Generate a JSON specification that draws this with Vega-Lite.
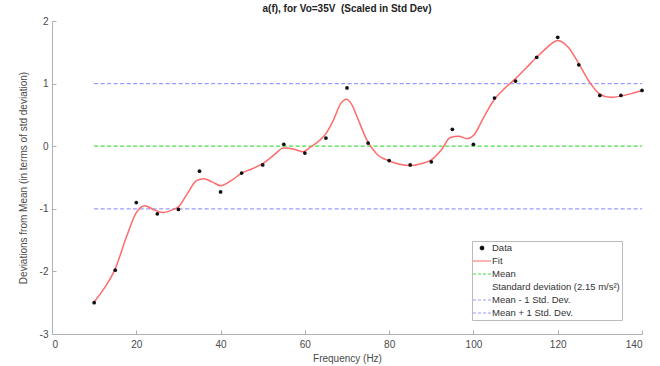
{
  "$schema": "https://vega.github.io/schema/vega-lite/v6.json",
  "width": 590,
  "height": 313,
  "autosize": "none",
  "padding": {"left": 52, "top": 21, "right": 18, "bottom": 32},
  "background": "white",
  "title": {"text": "a(f), for Vo=35V\u00a0 (Scaled in Std Dev)", "fontSize": 10, "font": "Liberation Sans", "fontWeight": "bold", "color": "#222", "offset": 2},
  "config": {
    "view": {"stroke": null},
    "font": "Liberation Sans",
    "axis": {"domainColor": "#b0b0b0", "tickColor": "#b0b0b0", "labelColor": "#4a4a4a", "titleColor": "#4a4a4a", "labelFontSize": 10, "titleFontSize": 10, "titleFontWeight": "normal", "grid": false, "tickSize": -4, "labelPadding": 8}
  },
  "datasets": {
    "pts": [
      {"f": 10, "v": -2.50}, {"f": 15, "v": -1.98}, {"f": 20, "v": -0.90}, {"f": 25, "v": -1.08},
      {"f": 30, "v": -1.01}, {"f": 35, "v": -0.40}, {"f": 40, "v": -0.73}, {"f": 45, "v": -0.43},
      {"f": 50, "v": -0.30}, {"f": 55, "v": 0.03}, {"f": 60, "v": -0.11}, {"f": 65, "v": 0.13},
      {"f": 70, "v": 0.93}, {"f": 75, "v": 0.05}, {"f": 80, "v": -0.23}, {"f": 85, "v": -0.30},
      {"f": 90, "v": -0.25}, {"f": 95, "v": 0.27}, {"f": 100, "v": 0.03}, {"f": 105, "v": 0.77},
      {"f": 110, "v": 1.04}, {"f": 115, "v": 1.42}, {"f": 120, "v": 1.74}, {"f": 125, "v": 1.30},
      {"f": 130, "v": 0.81}, {"f": 135, "v": 0.81}, {"f": 140, "v": 0.89}
    ],
    "fit": [
      {"f": 10, "v": -2.49}, {"f": 12.5, "v": -2.26}, {"f": 15, "v": -1.96}, {"f": 17.5, "v": -1.48},
      {"f": 20, "v": -1.06}, {"f": 22, "v": -0.95}, {"f": 24, "v": -1.01}, {"f": 26.4, "v": -1.06},
      {"f": 28.8, "v": -1.01}, {"f": 30, "v": -0.97}, {"f": 32, "v": -0.77}, {"f": 34.3, "v": -0.55},
      {"f": 36, "v": -0.52}, {"f": 38, "v": -0.57}, {"f": 40, "v": -0.63}, {"f": 42.5, "v": -0.55},
      {"f": 45, "v": -0.43}, {"f": 47.5, "v": -0.36}, {"f": 50, "v": -0.28}, {"f": 52.5, "v": -0.15},
      {"f": 55, "v": -0.03}, {"f": 57.5, "v": -0.05}, {"f": 59.6, "v": -0.09}, {"f": 61.2, "v": -0.02},
      {"f": 63.6, "v": 0.10}, {"f": 65, "v": 0.20}, {"f": 66.8, "v": 0.42}, {"f": 68.5, "v": 0.68},
      {"f": 69.9, "v": 0.75}, {"f": 71, "v": 0.68}, {"f": 72.5, "v": 0.45}, {"f": 74.7, "v": 0.10},
      {"f": 77, "v": -0.12}, {"f": 80.2, "v": -0.24}, {"f": 82.5, "v": -0.29}, {"f": 85, "v": -0.31},
      {"f": 87.5, "v": -0.28}, {"f": 90, "v": -0.22}, {"f": 92.5, "v": -0.05}, {"f": 94.5, "v": 0.14},
      {"f": 96.5, "v": 0.16}, {"f": 98.5, "v": 0.12}, {"f": 100, "v": 0.17}, {"f": 102.5, "v": 0.47},
      {"f": 105, "v": 0.75}, {"f": 107.5, "v": 0.93}, {"f": 110, "v": 1.08}, {"f": 112.5, "v": 1.25},
      {"f": 115, "v": 1.42}, {"f": 117.5, "v": 1.58}, {"f": 120, "v": 1.69}, {"f": 122.5, "v": 1.58},
      {"f": 125, "v": 1.32}, {"f": 127.5, "v": 1.03}, {"f": 130, "v": 0.83}, {"f": 132.5, "v": 0.78},
      {"f": 135, "v": 0.80}, {"f": 137.5, "v": 0.84}, {"f": 140, "v": 0.89}
    ],
    "lines": [
      {"series": "Mean", "f": 10, "v": 0}, {"series": "Mean", "f": 140, "v": 0},
      {"series": "Mean - 1 Std. Dev.", "f": 10, "v": -1}, {"series": "Mean - 1 Std. Dev.", "f": 140, "v": -1},
      {"series": "Mean + 1 Std. Dev.", "f": 10, "v": 1}, {"series": "Mean + 1 Std. Dev.", "f": 140, "v": 1}
    ]
  },
  "layer": [
    {
      "data": {"name": "lines"},
      "mark": {"type": "line", "strokeDash": [4, 2.5], "strokeWidth": 1.2},
      "encoding": {
        "x": {"field": "f", "type": "quantitative", "scale": {"domain": [0, 140]}, "axis": {"values": [0, 20, 40, 60, 80, 100, 120, 140], "title": "Frequency (Hz)", "titlePadding": 4, "labelPadding": 9}},
        "y": {"field": "v", "type": "quantitative", "scale": {"domain": [-3, 2]}, "axis": {"values": [-3, -2.5, -2, -1.5, -1, -0.5, 0, 0.5, 1, 1.5, 2], "labelExpr": "'' + datum.value", "title": "Deviations from Mean (in terms of std deviation)", "titlePadding": 11}},
        "color": {"field": "series", "type": "nominal"},
        "detail": {"field": "series"}
      }
    },
    {
      "data": {"name": "fit"},
      "transform": [{"calculate": "'Fit'", "as": "series"}],
      "mark": {"type": "line", "interpolate": "monotone", "strokeWidth": 1.5},
      "encoding": {
        "x": {"field": "f", "type": "quantitative"},
        "y": {"field": "v", "type": "quantitative"},
        "color": {"field": "series", "type": "nominal"}
      }
    },
    {
      "data": {"name": "pts"},
      "transform": [{"calculate": "'Data'", "as": "series"}],
      "mark": {"type": "point", "filled": true, "opacity": 1, "size": 14},
      "encoding": {
        "x": {"field": "f", "type": "quantitative"},
        "y": {"field": "v", "type": "quantitative"},
        "color": {
          "field": "series", "type": "nominal",
          "scale": {
            "domain": ["Data", "Fit", "Mean", "Standard deviation (2.15 m/s²)", "Mean - 1 Std. Dev.", "Mean + 1 Std. Dev."],
            "range": ["#111111", "#ff6b6b", "#44dd44", "#ffffff", "#9a9aff", "#9a9aff"]
          },
          "legend": {
            "title": null,
            "orient": "none",
            "legendX": 420,
            "legendY": 220,
            "padding": 2,
            "rowPadding": 3,
            "labelFontSize": 9.5,
            "labelColor": "#333",
            "strokeColor": "#bbb",
            "fillColor": "white",
            "symbolSize": 64,
            "symbolStrokeWidth": 1.2,
            "symbolOffset": 3,
            "labelOffset": 5,
            "encoding": {
              "symbols": {
                "shape": {"value": {"expr": "datum.value === 'Data' ? 'circle' : 'M-2.25,0H2.25'"}},
                "size": {"value": {"expr": "datum.value === 'Data' ? 12 : 64"}},
                "fill": {"value": {"expr": "datum.value === 'Data' ? '#111111' : 'transparent'"}},
                "stroke": {"value": {"expr": "datum.value === 'Data' ? 'transparent' : scale('color', datum.value)"}},
                "strokeWidth": {"value": 1.2},
                "strokeDash": {"value": {"expr": "datum.value === 'Fit' || datum.value === 'Data' ? [1, 0] : [3, 2]"}},
                "opacity": {"value": 1}
              }
            }
          }
        }
      }
    }
  ]
}
